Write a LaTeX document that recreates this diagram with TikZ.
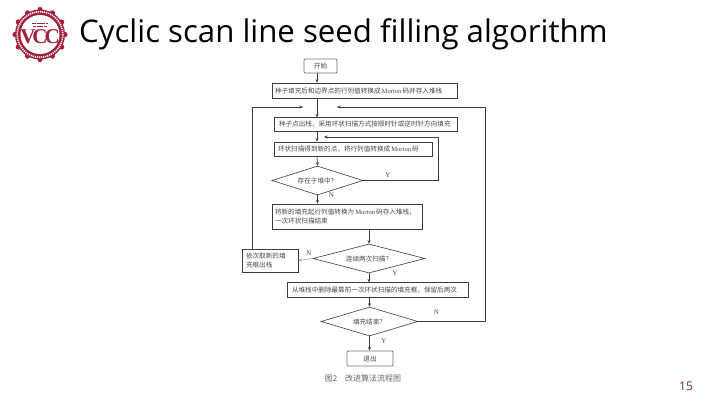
\documentclass[tikz,border=0pt]{standalone}
\usepackage{fontspec}
\setmainfont{Open Sans}
\newfontfamily\cjk{Noto Sans CJK SC}
\newfontfamily\latinfont{Liberation Serif}
\usepackage{xcolor}
\usepackage{tikz}
\usetikzlibrary{arrows.meta,calc,shapes.geometric}
\definecolor{vccred}{HTML}{A3203A}
\definecolor{flowline}{HTML}{3C3C3C}
\newcommand{\morton}{{\latinfont\,Morton\,}}

\begin{document}
\begin{tikzpicture}[x=1pt, y=-1pt,
    every node/.style={inner sep=0pt, text=black!72, font=\cjk\fontsize{6.6}{9.5}\selectfont},
    flowbox/.style={rectangle, draw=flowline, line width=0.7pt, fill=white},
    textbox/.style={flowbox, align=left},
    endbox/.style={flowbox, rounded corners=1pt, draw=black!55, line width=0.9pt},
    test/.style={diamond, draw=flowline, line width=0.6pt, fill=white},
    arr/.style={-{Stealth[length=3.5pt,width=3pt]}, line width=0.7pt, draw=flowline},
    flag/.style={font=\latinfont\fontsize{7}{8}\selectfont}]
\useasboundingbox (0,0) rectangle (720,405);

% logo
\node[circle, fill=vccred, minimum size=50pt] (seal) at (40,34.5) {};
\foreach \a in {0,30,...,330} {
  \fill[vccred] (seal.center) ++(\a:25) circle (2.6);
}
\draw[white, line width=1.6pt, dash pattern=on 1.2pt off 0.9pt] (seal.center) circle (22.8);
\node[circle, fill=white, minimum size=39pt] (sealin) at (40,34.5) {};
\node[font=\latinfont\bfseries\fontsize{21}{21}\selectfont, text=vccred] (vcc) at (40,37) {V\kern-3pt C\kern-3pt C};
\draw[vccred, line width=0.9pt, dash pattern=on 4pt off 0.6pt] (32,23.5) -- (48,23.5);
\draw[vccred, line width=0.9pt, dash pattern=on 3pt off 0.6pt] (33,26.5) -- (47,26.5);

% title and page number
\node[anchor=west, text=black, font=\rmfamily\fontsize{31.2}{34}\selectfont] (title) at (79,34) {Cyclic scan line seed filling algorithm};
\node[text=vccred!80!black, font=\rmfamily\fontsize{12}{14}\selectfont] (page) at (686,386) {15};

% flow chart
\node[endbox, minimum width=33pt, minimum height=14pt] (start) at (320.5,66) {开始};
\node[textbox, minimum width=185pt, minimum height=15pt, text width=179pt] (push) at (364.5,90.5) {种子填充后和边界点的行列值转换成\morton 码并存入堆栈};
\node[textbox, minimum width=183pt, minimum height=13.5pt, text width=173pt] (pop) at (365.5,124.5) {种子点出栈，采用环状扫描方式按顺时针或逆时针方向填充};
\node[textbox, minimum width=158pt, minimum height=14pt, text width=150pt] (ring) at (353,149) {环状扫描得到新的点，将行列值转换成\morton 码};
\node[test, aspect=3.1, minimum width=91pt, minimum height=29pt] (inheap) at (317.5,180.5) {存在于堆中？};
\node[textbox, minimum width=150pt, minimum height=25pt, text width=144pt] (store) at (347,216.5) {将新的填充起行列值转换为\morton 码存入堆栈，\\一次环状扫描结束};
\node[test, aspect=3.9, minimum width=112pt, minimum height=29pt] (twice) at (369,258.5) {连续两次扫描？};
\node[textbox, minimum width=56pt, minimum height=23pt, text width=48pt] (out) at (270,260.5) {依次取新的填\\充框出栈};
\node[textbox, minimum width=181pt, minimum height=14.5pt, text width=171pt] (del) at (377.5,290) {从堆栈中删除最靠前一次环状扫描的填充框，保留后两次};
\node[test, aspect=3.3, minimum width=97pt, minimum height=29pt] (done) at (369.5,321.5) {填充结束？};
\node[endbox, minimum width=46pt, minimum height=15pt] (quit) at (370,358.5) {退出};
\node[text=black!60, font=\cjk\fontsize{8}{9}\selectfont] (caption) at (363,378) {图2\hspace{8pt}改进算法流程图};

% free ends of the loops
\coordinate (trunk) at (317,107);
\coordinate (loopL) at (303,107);
\coordinate (loopR) at (337,107);
\coordinate (loopY) at (324,137);

\draw[arr] (start.south -| trunk) -- (push.north -| trunk);
\draw[arr] (push.south -| trunk) -- (pop.north -| trunk);
\draw[arr] (pop.south -| trunk) -- (ring.north -| trunk);
\draw[arr] (ring.south -| trunk) -- (inheap.north);
\draw[arr] (inheap.south) -- (store.north -| inheap.south);
\draw[arr] (store.south -| twice.north) -- (twice.north);
\draw[arr] (twice.south) -- (del.north -| twice.south);
\draw[arr] (del.south -| done.north) -- (done.north);
\draw[arr] (done.south) -- (quit.north -| done.south);
\draw[arr, draw=black!35] (twice.west) -- (out.east);
\draw[arr] (inheap.east) -- (438,180.5) -- (438,137) -- (loopY);
\draw[arr] (out.north -| 252,0) -- (252,107) -- (loopL);
\draw[arr] (done.east) -- (485,321.5) -- (485,107) -- (loopR);

\node[flag] (yheap) at (388,175) {Y};
\node[flag] (nheap) at (331.5,195.5) {N};
\node[flag] (ntwice) at (309,253.5) {N};
\node[flag] (ytwice) at (395,273) {Y};
\node[flag] (ndone) at (436.5,312.5) {N};
\node[flag] (ydone) at (384,341) {Y};
\end{tikzpicture}
\end{document}
